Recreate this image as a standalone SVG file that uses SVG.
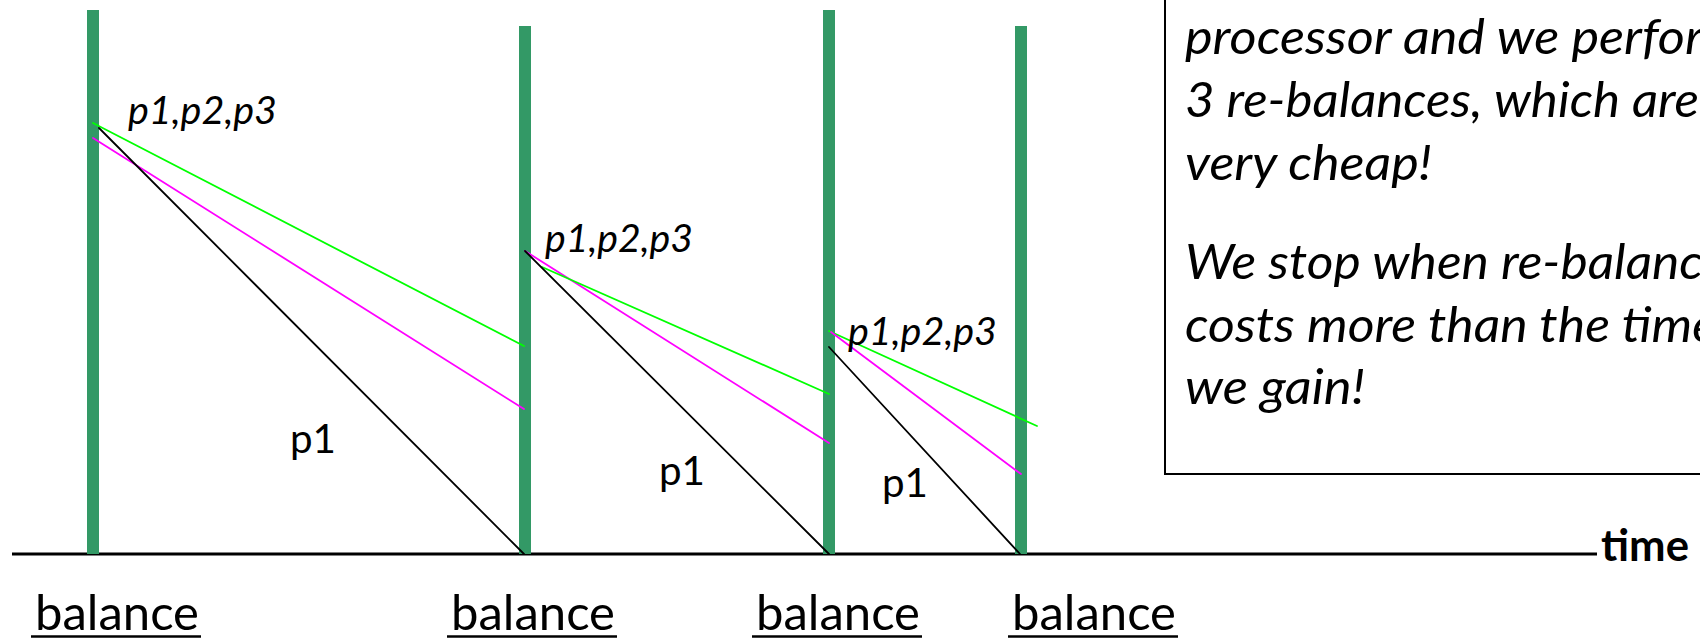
<svg xmlns="http://www.w3.org/2000/svg" width="1700" height="638" viewBox="0 0 1700 638">
<style>
.bar{fill:#339966;}
.ln{stroke-width:1.8;fill:none;stroke-linecap:round;}
.g{stroke:#00ff00;}
.m{stroke:#ff00ff;}
.k{stroke:#000000;}
.lab{font-family:Lato,"Liberation Sans",sans-serif;fill:#000;}
.it{font-style:italic;}
.pp{font-size:38px;}
.p1{font-size:40px;}
.bal{font-size:48px;}
.box{font-size:48px;}
</style>
<rect x="0" y="0" width="1700" height="638" fill="#ffffff"/>
<g id="note">
<rect x="1165" y="-10" width="600" height="484" fill="#ffffff" stroke="#000" stroke-width="2"/>
<text class="lab it box" x="1185" y="54" textLength="559" lengthAdjust="spacingAndGlyphs">processor and we perform</text>
<text class="lab it box" x="1185" y="117" textLength="514" lengthAdjust="spacingAndGlyphs">3 re-balances, which are</text>
<text class="lab it box" x="1185" y="180" textLength="247" lengthAdjust="spacingAndGlyphs">very cheap!</text>
<text class="lab it box" x="1185" y="279" textLength="542" lengthAdjust="spacingAndGlyphs">We stop when re-balance</text>
<text class="lab it box" x="1185" y="342" textLength="532" lengthAdjust="spacingAndGlyphs">costs more than the time</text>
<text class="lab it box" x="1185" y="404" textLength="180" lengthAdjust="spacingAndGlyphs">we gain!</text>
</g>
<g id="axis">
<line x1="12" y1="554" x2="1597" y2="554" stroke="#000" stroke-width="3"/>
<text class="lab" x="1601" y="561" font-size="44" font-weight="bold" textLength="88" lengthAdjust="spacingAndGlyphs">time</text>
</g>
<g id="balance1">
<rect class="bar" x="87" y="10" width="12" height="544"/>
<text class="lab bal" x="35" y="630" textLength="164" lengthAdjust="spacingAndGlyphs">balance</text>
<line x1="31" y1="636.5" x2="201" y2="636.5" stroke="#000" stroke-width="2.5"/>
</g>
<g id="balance2">
<rect class="bar" x="519" y="26" width="12" height="528"/>
<text class="lab bal" x="451" y="630" textLength="164" lengthAdjust="spacingAndGlyphs">balance</text>
<line x1="447" y1="636.5" x2="617" y2="636.5" stroke="#000" stroke-width="2.5"/>
</g>
<g id="balance3">
<rect class="bar" x="823" y="10" width="12" height="544"/>
<text class="lab bal" x="756" y="630" textLength="164" lengthAdjust="spacingAndGlyphs">balance</text>
<line x1="752" y1="636.5" x2="922" y2="636.5" stroke="#000" stroke-width="2.5"/>
</g>
<g id="balance4">
<rect class="bar" x="1015" y="26" width="12" height="528"/>
<text class="lab bal" x="1012" y="630" textLength="164" lengthAdjust="spacingAndGlyphs">balance</text>
<line x1="1008" y1="636.5" x2="1178" y2="636.5" stroke="#000" stroke-width="2.5"/>
</g>
<g id="connectors">
<line class="ln g" x1="93" y1="123" x2="524" y2="346"/>
<line class="ln m" x1="93" y1="138" x2="524" y2="409"/>
<line class="ln k" x1="99" y1="128" x2="524" y2="554"/>
<line class="ln m" x1="525" y1="251" x2="829" y2="443"/>
<line class="ln g" x1="542" y1="267" x2="829" y2="394"/>
<line class="ln k" x1="525" y1="251" x2="829" y2="554"/>
<line class="ln g" x1="829" y1="331" x2="1037" y2="426"/>
<line class="ln m" x1="831" y1="332" x2="1021" y2="474"/>
<line class="ln k" x1="829" y1="347" x2="1020" y2="554"/>
</g>
<g id="labels">
<text class="lab it pp" x="128" y="124" textLength="149" lengthAdjust="spacingAndGlyphs">p1,p2,p3</text>
<text class="lab it pp" x="545" y="252" textLength="148" lengthAdjust="spacingAndGlyphs">p1,p2,p3</text>
<text class="lab it pp" x="848" y="345" textLength="149" lengthAdjust="spacingAndGlyphs">p1,p2,p3</text>
<text class="lab p1" x="290" y="453" textLength="46" lengthAdjust="spacingAndGlyphs">p1</text>
<text class="lab p1" x="659" y="485" textLength="46" lengthAdjust="spacingAndGlyphs">p1</text>
<text class="lab p1" x="882" y="497" textLength="46" lengthAdjust="spacingAndGlyphs">p1</text>
</g>
</svg>
